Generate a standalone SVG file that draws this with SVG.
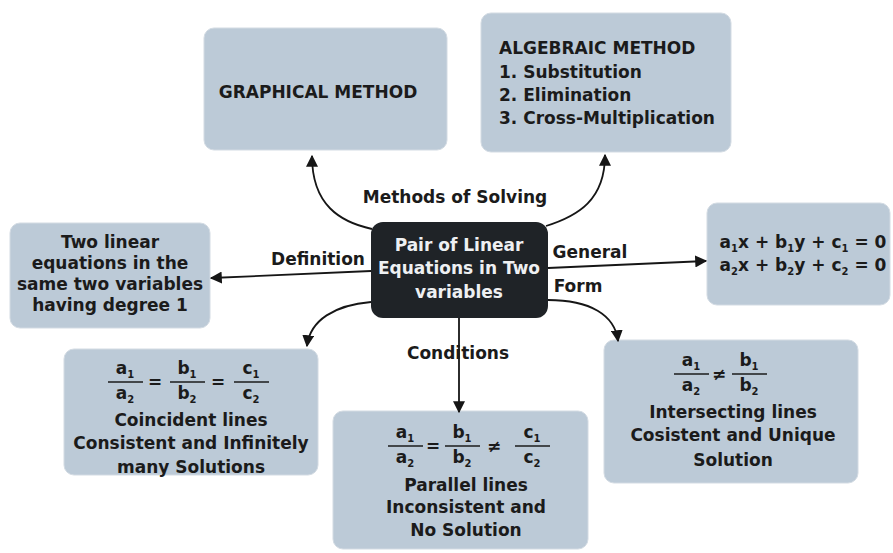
<svg xmlns="http://www.w3.org/2000/svg" width="893" height="553" viewBox="0 0 893 553">
<defs>
<marker id="ah" viewBox="0 0 10 10" refX="9" refY="5" markerWidth="12" markerHeight="12" markerUnits="userSpaceOnUse" orient="auto">
<path d="M0,0 L10,5 L0,10 z" fill="#161616"/>
</marker>
<style>
.box{fill:#bccad7;stroke:#d3dbe3;stroke-width:1}
.t{font-family:"DejaVu Sans","Liberation Sans",sans-serif;font-weight:bold;fill:#1b1b1b;font-size:17px;text-anchor:middle}
.tl{font-family:"DejaVu Sans","Liberation Sans",sans-serif;font-weight:bold;fill:#1b1b1b;font-size:17px}
.w{fill:#eef0f2}
.s{font-size:10px}
.bar{stroke:#1b1b1b;stroke-width:1.6}
.c{fill:none;stroke:#161616;stroke-width:1.8}
</style>
</defs>
<rect width="893" height="553" fill="#ffffff"/>

<g id="center">
<rect x="371" y="222" width="177" height="96" rx="12" fill="#1f2327"/>
<text class="t w" x="459" y="251">Pair of Linear</text>
<text class="t w" x="459" y="274">Equations in Two</text>
<text class="t w" x="459" y="298">variables</text>
</g>

<g id="graphical">
<rect class="box" x="204" y="28" width="243" height="122" rx="10"/>
<text class="t" x="318" y="98">GRAPHICAL METHOD</text>
</g>

<g id="algebraic">
<rect class="box" x="481" y="13" width="250" height="139" rx="10"/>
<text class="tl" x="499" y="54">ALGEBRAIC METHOD</text>
<text class="tl" x="499" y="78">1. Substitution</text>
<text class="tl" x="499" y="101">2. Elimination</text>
<text class="tl" x="499" y="124">3. Cross-Multiplication</text>
</g>

<g id="definition">
<rect class="box" x="10" y="223" width="200" height="105" rx="10"/>
<text class="t" x="110" y="248">Two linear</text>
<text class="t" x="110" y="269">equations in the</text>
<text class="t" x="110" y="290">same two variables</text>
<text class="t" x="110" y="311">having degree 1</text>
</g>

<g id="general">
<rect class="box" x="707" y="203" width="183" height="102" rx="10"/>
<text class="t" x="803" y="248">a<tspan class="s" dy="4">1</tspan><tspan dy="-4">x + b</tspan><tspan class="s" dy="4">1</tspan><tspan dy="-4">y + c</tspan><tspan class="s" dy="4">1</tspan><tspan dy="-4"> = 0</tspan></text>
<text class="t" x="803" y="271">a<tspan class="s" dy="4">2</tspan><tspan dy="-4">x + b</tspan><tspan class="s" dy="4">2</tspan><tspan dy="-4">y + c</tspan><tspan class="s" dy="4">2</tspan><tspan dy="-4"> = 0</tspan></text>
</g>

<g id="coincident">
<rect class="box" x="64" y="349" width="254" height="126" rx="10"/>
<text class="t" x="125" y="374">a<tspan class="s" dy="4">1</tspan></text>
<line class="bar" x1="108" y1="382" x2="143" y2="382"/>
<text class="t" x="125" y="399">a<tspan class="s" dy="4">2</tspan></text>
<text class="t" x="155" y="388">=</text>
<text class="t" x="187" y="374">b<tspan class="s" dy="4">1</tspan></text>
<line class="bar" x1="170" y1="382" x2="205" y2="382"/>
<text class="t" x="187" y="399">b<tspan class="s" dy="4">2</tspan></text>
<text class="t" x="218" y="388">=</text>
<text class="t" x="251" y="374">c<tspan class="s" dy="4">1</tspan></text>
<line class="bar" x1="234" y1="382" x2="269" y2="382"/>
<text class="t" x="251" y="399">c<tspan class="s" dy="4">2</tspan></text>
<text class="t" x="191" y="426">Coincident lines</text>
<text class="t" x="191" y="449">Consistent and Infinitely</text>
<text class="t" x="191" y="473">many Solutions</text>
</g>

<g id="parallel">
<rect class="box" x="333" y="411" width="255" height="138" rx="10"/>
<text class="t" x="405" y="438">a<tspan class="s" dy="4">1</tspan></text>
<line class="bar" x1="388" y1="446" x2="423" y2="446"/>
<text class="t" x="405" y="463">a<tspan class="s" dy="4">2</tspan></text>
<text class="t" x="433" y="452">=</text>
<text class="t" x="462" y="438">b<tspan class="s" dy="4">1</tspan></text>
<line class="bar" x1="445" y1="446" x2="480" y2="446"/>
<text class="t" x="462" y="463">b<tspan class="s" dy="4">2</tspan></text>
<text class="t" x="494" y="452">≠</text>
<text class="t" x="532" y="438">c<tspan class="s" dy="4">1</tspan></text>
<line class="bar" x1="515" y1="446" x2="550" y2="446"/>
<text class="t" x="532" y="463">c<tspan class="s" dy="4">2</tspan></text>
<text class="t" x="466" y="491">Parallel lines</text>
<text class="t" x="466" y="513">Inconsistent and</text>
<text class="t" x="466" y="536">No Solution</text>
</g>

<g id="intersecting">
<rect class="box" x="604" y="340" width="254" height="143" rx="10"/>
<text class="t" x="691" y="366">a<tspan class="s" dy="4">1</tspan></text>
<line class="bar" x1="674" y1="374" x2="709" y2="374"/>
<text class="t" x="691" y="391">a<tspan class="s" dy="4">2</tspan></text>
<text class="t" x="719" y="380">≠</text>
<text class="t" x="749" y="366">b<tspan class="s" dy="4">1</tspan></text>
<line class="bar" x1="732" y1="374" x2="767" y2="374"/>
<text class="t" x="749" y="391">b<tspan class="s" dy="4">2</tspan></text>
<text class="t" x="733" y="418">Intersecting lines</text>
<text class="t" x="733" y="441">Cosistent and Unique</text>
<text class="t" x="733" y="466">Solution</text>
</g>

<g id="connectors">
<path class="c" d="M372,229 C340,222 312,205 312,156" marker-end="url(#ah)"/>
<path class="c" d="M546,226 C578,216 605,200 605,155" marker-end="url(#ah)"/>
<path class="c" d="M371,271 L211,278" marker-end="url(#ah)"/>
<path class="c" d="M548,268 L706,261" marker-end="url(#ah)"/>
<path class="c" d="M548,300 C590,300 615,315 618,341" marker-end="url(#ah)"/>
<path class="c" d="M371,302 C335,305 310,320 307,346" marker-end="url(#ah)"/>
<path class="c" d="M459,318 L459,412" marker-end="url(#ah)"/>
<text class="t" x="455" y="203">Methods of Solving</text>
<text class="t" x="318" y="265">Definition</text>
<text class="t" x="590" y="258">General</text>
<text class="t" x="578" y="292">Form</text>
<text class="t" x="458" y="359">Conditions</text>
</g>
</svg>
